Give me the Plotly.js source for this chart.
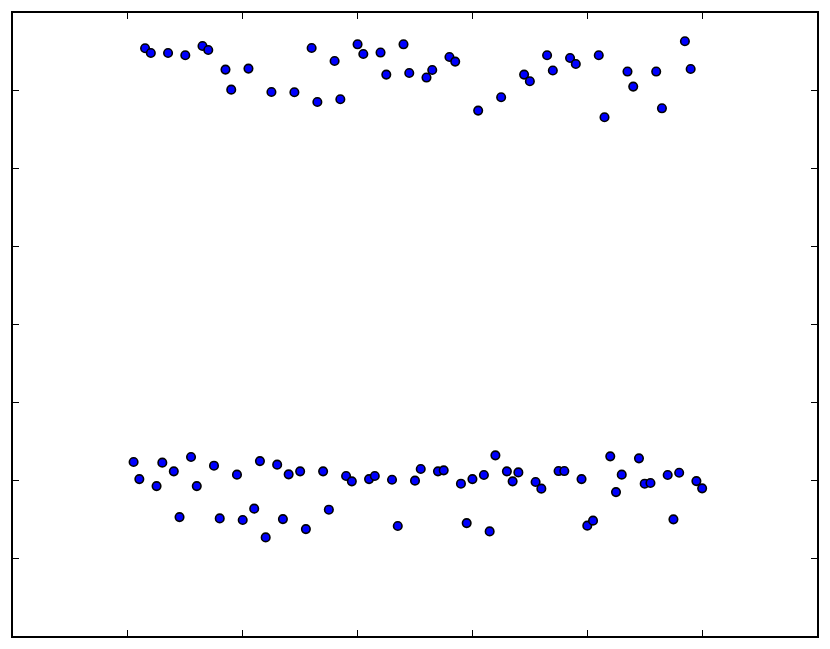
<!DOCTYPE html>
<html>
<head>
<meta charset="utf-8">
<script src="https://cdn.plot.ly/plotly-3.0.1.min.js"></script>
<style>html,body{margin:0;padding:0;background:#fff;}#chart{width:830px;height:649px;}</style>
</head>
<body>
<div id="chart"></div>
<script>
// x positions (1..100) and their values
const xValues = [];
for (let i = 1; i <= 100; i++) xValues.push(i);

const yValues = [
  2.234, 2.015, 7.547, 7.487, 1.925, 2.226, 7.487, 2.114, 1.527, 7.457,
  2.298, 1.925, 7.576, 7.525, 2.187, 1.510, 7.273, 7.016, 2.072, 1.489,
  7.286, 1.635, 2.246, 1.266, 6.986, 2.200, 1.501, 2.076, 6.982, 2.114,
  1.373, 7.551, 6.857, 2.114, 1.622, 7.384, 6.892, 2.054, 1.986, 7.598,
  7.474, 2.015, 2.054, 7.492, 7.209, 2.007, 1.412, 7.598, 7.230, 1.995,
  2.144, 7.171, 7.268, 2.114, 2.127, 7.435, 7.376, 1.956, 1.450, 2.015,
  6.747, 2.067, 1.343, 2.320, 6.918, 2.114, 1.986, 2.101, 7.209, 7.123,
  1.977, 1.892, 7.457, 7.261, 2.118, 2.118, 7.422, 7.345, 2.015, 1.417,
  1.481, 7.457, 6.661, 2.307, 1.848, 2.072, 7.248, 7.055, 2.281, 1.956,
  1.964, 7.248, 6.776, 2.067, 1.498, 2.097, 7.637, 7.281, 1.989, 1.896
];

const xTicks = [0, 20, 40, 60, 80, 100];
const yTicks = [1, 2, 3, 4, 5, 6, 7];

const trace = {
  x: xValues,
  y: yValues,
  type: 'scatter',
  mode: 'markers',
  marker: { color: '#0000ff', size: 8.5, line: { color: '#000000', width: 1.6 } },
  hoverinfo: 'skip'
};

const axisCommon = {
  showline: true, linecolor: '#000', linewidth: 1.6, mirror: 'ticks',
  ticks: 'inside', ticklen: 6, tickwidth: 1, tickcolor: '#000',
  showticklabels: false, showgrid: false, zeroline: false
};

const layout = {
  width: 830, height: 649,
  margin: { l: 13, r: 13, t: 13, b: 13 },
  paper_bgcolor: '#fff', plot_bgcolor: '#fff',
  showlegend: false,
  xaxis: Object.assign({}, axisCommon, { range: [-20, 120], tickmode: 'array', tickvals: xTicks }),
  yaxis: Object.assign({}, axisCommon, { range: [0, 8], tickmode: 'array', tickvals: yTicks })
};

Plotly.newPlot('chart', [trace], layout, { displayModeBar: false, staticPlot: true });
</script>
</body>
</html>
